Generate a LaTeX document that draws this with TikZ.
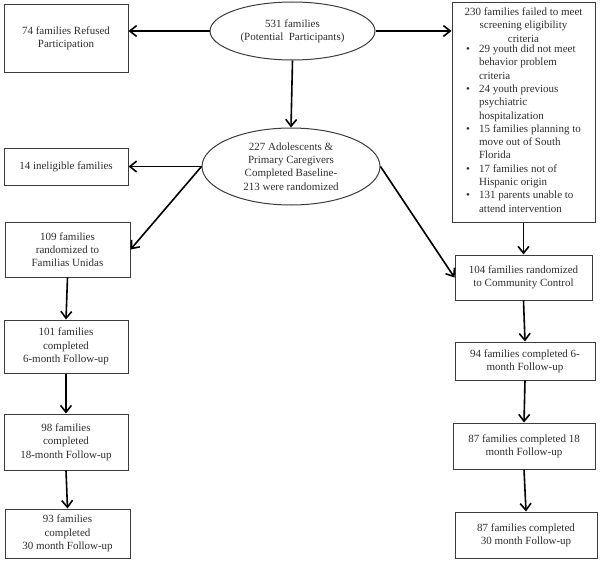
\documentclass[tikz,border=0pt]{standalone}
\usepackage{fontspec}
\setmainfont{Liberation Serif}
\usepackage{tikz}
\usetikzlibrary{arrows.meta,positioning,shapes.geometric}
\definecolor{edgegray}{HTML}{3C3C3C}
\definecolor{inkgray}{HTML}{2E2E2E}

\begin{document}
\begin{tikzpicture}[
    x=1pt, y=-1pt,
    box/.style={draw=edgegray, line width=1pt, inner sep=2pt, align=center, text=inkgray, font=\fontsize{11}{13.3}\selectfont},
    oval/.style={ellipse, draw=edgegray, line width=1pt, inner sep=0pt, align=center, text=inkgray, font=\fontsize{11}{13.3}\selectfont},
    arrow/.style={-{Straight Barb[length=2.4mm, width=3.8mm]}, line width=1.6pt, draw=black}
]
\useasboundingbox (0,0) rectangle (600,562);
\node[oval, minimum width=165pt, minimum height=58pt] (top) at (292.5,31) {531 families\\(Potential\ \ Participants)};
\node[oval, minimum width=178pt, minimum height=77pt] (base) at (291,166.5) {227 Adolescents \&\\Primary Caregivers\\Completed Baseline-\\213 were randomized};
\node[box, minimum width=124pt, minimum height=68pt] (refused) at (66,38) {74 families Refused\\Participation};
\node[box, minimum width=124pt, minimum height=37pt] (inel) at (66,166.5) {14 ineligible families};
\node[box, minimum width=143pt, minimum height=220pt, inner sep=0pt] (crit) at (523.5,112) {%
  230 families failed to meet\\screening eligibility\\criteria\\
  \begin{tabular}{@{}l@{\hspace{9pt}}l@{}}
  \textbullet & 29 youth did not meet\\ & behavior problem\\ & criteria\\
  \textbullet & 24 youth previous\\ & psychiatric\\ & hospitalization\\
  \textbullet & 15 families planning to\\ & move out of South\\ & Florida\\
  \textbullet & 17 families not of\\ & Hispanic origin\\
  \textbullet & 131 parents unable to\\ & attend intervention
  \end{tabular}};
\node[box, minimum width=125pt, minimum height=55pt] (fu) at (67.5,249.5) {109 families\\randomized to\\Familias Unidas};
\node[box, minimum width=124pt, minimum height=53pt] (fu6) at (66,346.5) {101 families\\completed\\6-month Follow-up};
\node[box, minimum width=124pt, minimum height=56pt] (fu18) at (66,442) {98 families\\completed\\18-month Follow-up};
\node[box, minimum width=125pt, minimum height=49pt] (fu30) at (67.5,533.5) {93 families\\completed\\30 month Follow-up};
\node[box, minimum width=137pt, minimum height=45pt] (cc) at (523.5,277.5) {104 families randomized\\to Community Control};
\node[box, minimum width=140pt, minimum height=38pt] (cc6) at (525,361) {94 families completed 6-\\month Follow-up};
\node[box, minimum width=142pt, minimum height=46pt] (cc18) at (524,446) {87 families completed 18\\month Follow-up};
\node[box, minimum width=142pt, minimum height=46pt] (cc30) at (526,535) {87 families completed\\30 month Follow-up};
\draw[arrow] (top.west) -- (top.west -| refused.east);
\draw[arrow] (top.east) -- (top.east -| crit.west);
\draw[arrow] (top.south) -- (base.north);
\draw[arrow] (base.west) -- (inel.east);
\draw[arrow] (base.west) -- (fu.east);
\draw[arrow] (base.east) -- (cc.west);
\draw[arrow] (crit.south) -- (cc.north);
\draw[arrow] (fu.south) -- (fu6.north);
\draw[arrow] (fu6.south) -- (fu18.north);
\draw[arrow] (fu18.south) -- (fu30.north);
\draw[arrow] (cc.south) -- (cc6.north);
\draw[arrow] (cc6.south) -- (cc18.north);
\draw[arrow] (cc18.south) -- (cc30.north);
\end{tikzpicture}
\end{document}
